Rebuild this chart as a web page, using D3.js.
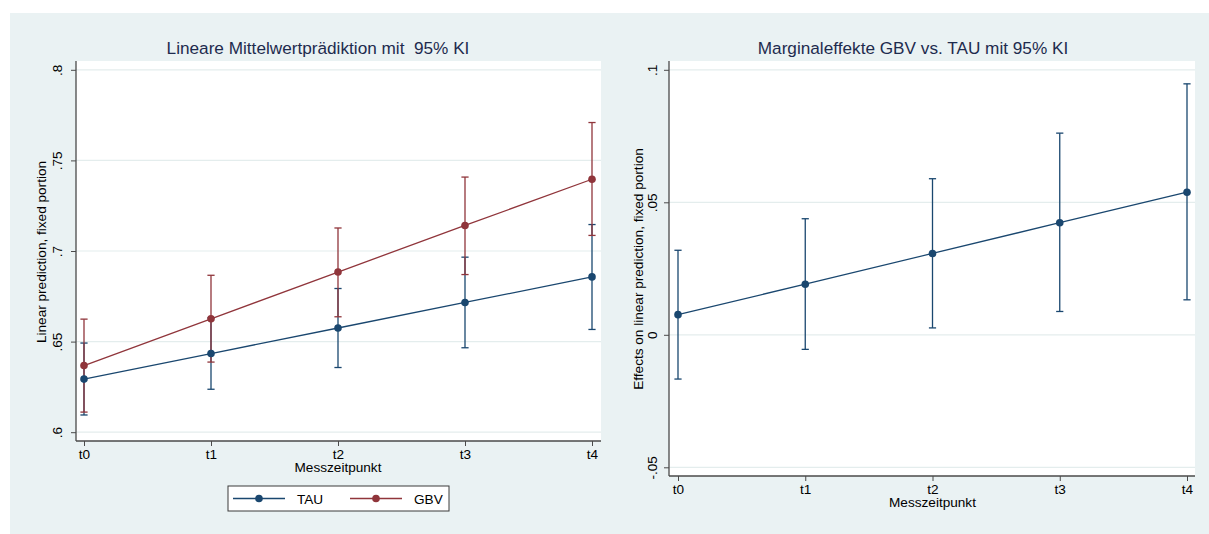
<!DOCTYPE html>
<html><head><meta charset="utf-8">
<script src="https://cdn.jsdelivr.net/npm/d3@7"></script>
<style>
html,body{margin:0;padding:0;background:#fff;}
svg{display:block;font-family:"Liberation Sans",Arial,sans-serif;}
text{white-space:pre;}
</style></head>
<body><svg id="c" width="1209" height="534"></svg>
<script>
const categories = ["t0","t1","t2","t3","t4"];
const tauMean = [0.6293,0.6434,0.6575,0.6716,0.6857];
const tauLow  = [0.6095,0.6237,0.6357,0.6466,0.6567];
const tauHigh = [0.6492,0.6631,0.6793,0.6966,0.7146];
const gbvMean = [0.6368,0.6626,0.6884,0.7141,0.7396];
const gbvLow  = [0.6111,0.6387,0.6637,0.6870,0.7086];
const gbvHigh = [0.6624,0.6866,0.7127,0.7408,0.7709];
const diffMean = [0.0076,0.0191,0.0307,0.0423,0.0538];
const diffLow  = [-0.0167,-0.0055,0.0026,0.0088,0.0132];
const diffHigh = [0.0319,0.0438,0.0589,0.0761,0.0947];
const leftTicks = [0.6,0.65,0.7,0.75,0.8];
const leftTickLabels = [".6",".65",".7",".75",".8"];
const rightTicks = [-0.05,0,0.05,0.1];
const rightTickLabels = ["-.05","0",".05",".1"];
const seriesNames = ["TAU","GBV"];
const titleLeft = "Lineare Mittelwertprädiktion mit  95% KI";
const titleRight = "Marginaleffekte GBV vs. TAU mit 95% KI";
const yTitleLeft = "Linear prediction, fixed portion";
const yTitleRight = "Effects on linear prediction, fixed portion";
const xTitle = "Messzeitpunkt";

const NAVY = "#1a476f", MAROON = "#90353b", BG = "#eaf2f3", GRID = "#e4eded", AXIS = "#4a4a4a", TITLE = "#1e2b4e";
const FS = 13.6;

const svg = d3.select("#c");
svg.append("rect").attr("x",10).attr("y",13).attr("width",1199).attr("height",521).attr("fill",BG);

function panel(cfg){
  const g = svg.append("g");
  const {px0,px1,py0,py1} = cfg;
  g.append("rect").attr("x",px0).attr("y",py0).attr("width",px1-px0).attr("height",py1-py0).attr("fill","#fff");
  const x = d3.scalePoint().domain(categories).range(cfg.xr);
  const y = d3.scaleLinear().domain(cfg.yd).range(cfg.yr);
  // grid
  g.selectAll(".grid").data(cfg.ticks).enter().append("line")
    .attr("x1",px0).attr("x2",px1).attr("y1",d=>y(d)).attr("y2",d=>y(d))
    .attr("stroke",GRID).attr("stroke-width",1.2);
  // y axis
  const ya = d3.axisLeft(y).tickValues(cfg.ticks).tickFormat((d,i)=>cfg.tickLabels[i]).tickSize(5).tickSizeOuter(0);
  const yg = g.append("g").attr("transform",`translate(${px0},0)`).call(ya);
  yg.select(".domain").remove();
  yg.selectAll(".tick line").attr("stroke",AXIS);
  yg.selectAll(".tick text").attr("x",null).attr("dy",null).attr("text-anchor","middle")
    .attr("transform",`translate(${-cfg.ylabGap},0) rotate(-90)`)
    .attr("font-size",FS).attr("fill","#000").attr("font-family","Liberation Sans, Arial, sans-serif");
  // x axis
  const xa = d3.axisBottom(x).tickSize(5).tickSizeOuter(0);
  const xg = g.append("g").attr("transform",`translate(0,${py1})`).call(xa);
  xg.select(".domain").remove();
  xg.selectAll(".tick line").attr("stroke",AXIS);
  xg.selectAll(".tick text").attr("dy",null).attr("y",18).attr("font-size",FS).attr("fill","#000")
    .attr("font-family","Liberation Sans, Arial, sans-serif");
  // axis lines
  g.append("line").attr("x1",px0).attr("x2",px0).attr("y1",py0).attr("y2",py1).attr("stroke",AXIS).attr("stroke-width",1.3);
  g.append("line").attr("x1",px0).attr("x2",px1).attr("y1",py1).attr("y2",py1).attr("stroke",AXIS).attr("stroke-width",1.3);
  // titles
  g.append("text").attr("x",cfg.titleX).attr("y",54).attr("text-anchor","middle").attr("font-size",17.2).attr("fill",TITLE).text(cfg.title);
  g.append("text").attr("x",(cfg.xr[0]+cfg.xr[1])/2).attr("y",py1+31).attr("text-anchor","middle").attr("font-size",FS).attr("fill","#000").text(xTitle);
  g.append("text").attr("transform",`translate(${px0-cfg.ytGap},${cfg.ytY}) rotate(-90)`).attr("text-anchor","middle").attr("font-size",FS).attr("fill","#000").text(cfg.yTitle);
  // series
  const capW = 3.6;
  cfg.series.forEach(s=>{
    const cg = g.append("g");
    categories.forEach((c,i)=>{
      const cx = x(c);
      cg.append("line").attr("x1",cx).attr("x2",cx).attr("y1",y(s.low[i])).attr("y2",y(s.high[i])).attr("stroke",s.color).attr("stroke-width",1.3);
      [s.low[i],s.high[i]].forEach(v=>{
        cg.append("line").attr("x1",cx-capW).attr("x2",cx+capW).attr("y1",y(v)).attr("y2",y(v)).attr("stroke",s.color).attr("stroke-width",1.3);
      });
    });
  });
  cfg.series.forEach(s=>{
    const line = d3.line().x((d,i)=>x(categories[i])).y(d=>y(d));
    g.append("path").attr("d",line(s.mean)).attr("fill","none").attr("stroke",s.color).attr("stroke-width",1.3);
    g.selectAll(null).data(s.mean).enter().append("circle")
      .attr("cx",(d,i)=>x(categories[i])).attr("cy",d=>y(d)).attr("r",3.8).attr("fill",s.color);
  });
  return {x,y};
}

panel({px0:76,px1:601,py0:61,py1:441,xr:[84,592],yd:[0.6,0.8],yr:[432.2,69.8],
  ticks:leftTicks,tickLabels:leftTickLabels,ylabGap:14,ytGap:30,ytY:252,
  title:titleLeft,titleX:318,yTitle:yTitleLeft,
  series:[{mean:tauMean,low:tauLow,high:tauHigh,color:NAVY},{mean:gbvMean,low:gbvLow,high:gbvHigh,color:MAROON}]});

panel({px0:669,px1:1195,py0:61,py1:476,xr:[678,1187],yd:[-0.05,0.1],yr:[467.3,69.8],
  ticks:rightTicks,tickLabels:rightTickLabels,ylabGap:12,ytGap:26,ytY:269,
  title:titleRight,titleX:913,yTitle:yTitleRight,
  series:[{mean:diffMean,low:diffLow,high:diffHigh,color:NAVY}]});

// legend
const lg = svg.append("g");
lg.append("rect").attr("x",228).attr("y",486).attr("width",221).attr("height",25).attr("fill","#fff").attr("stroke","#3a3a3a").attr("stroke-width",1);
const legendItems = seriesNames.map((n,i)=>({name:n,color:[NAVY,MAROON][i],x0:[233,350][i]}));
legendItems.forEach(it=>{
  lg.append("line").attr("x1",it.x0).attr("x2",it.x0+52).attr("y1",498.5).attr("y2",498.5).attr("stroke",it.color).attr("stroke-width",1.3);
  lg.append("circle").attr("cx",it.x0+26).attr("cy",498.5).attr("r",3.8).attr("fill",it.color);
  lg.append("text").attr("x",it.x0+64).attr("y",503.5).attr("font-size",FS).attr("fill","#000").text(it.name);
});
</script></body></html>
